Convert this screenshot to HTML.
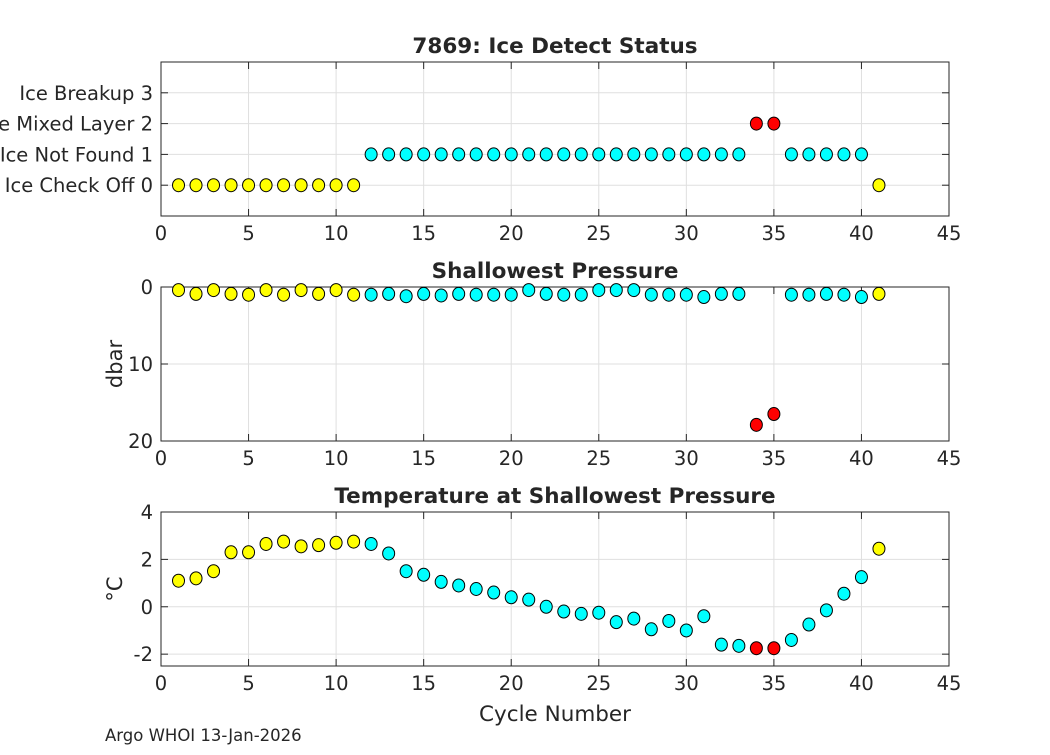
<!DOCTYPE html>
<html><head><meta charset="utf-8"><style>
body{margin:0;background:#fff;}
svg text{font-family:"DejaVu Sans","Liberation Sans",sans-serif;fill:#262626;}
</style></head><body>
<svg id="c" width="1050" height="750" xmlns="http://www.w3.org/2000/svg"></svg>
<script>
const cycles=[1,2,3,4,5,6,7,8,9,10,11,12,13,14,15,16,17,18,19,20,21,22,23,24,25,26,27,28,29,30,31,32,33,34,35,36,37,38,39,40,41];
const iceStatus=[0,0,0,0,0,0,0,0,0,0,0,1,1,1,1,1,1,1,1,1,1,1,1,1,1,1,1,1,1,1,1,1,1,2,2,1,1,1,1,1,0];
const shallowPressure=[0.4,0.9,0.4,0.9,1.0,0.4,1.0,0.4,0.9,0.4,1.0,1.0,0.9,1.2,0.9,1.1,0.9,1.0,1.0,1.0,0.4,0.9,1.0,1.0,0.4,0.4,0.4,1.0,1.0,1.0,1.3,0.9,0.9,17.9,16.5,1.0,1.0,0.9,1.0,1.3,0.9];
const shallowTemp=[1.1,1.2,1.5,2.3,2.3,2.65,2.75,2.55,2.6,2.7,2.75,2.65,2.25,1.5,1.35,1.05,0.9,0.75,0.6,0.4,0.3,0,-0.2,-0.3,-0.25,-0.65,-0.5,-0.95,-0.6,-1.0,-0.4,-1.6,-1.65,-1.75,-1.75,-1.4,-0.75,-0.15,0.55,1.25,2.45];
const xTicks=[0,5,10,15,20,25,30,35,40,45];
const iceTickLabels=["Ice Check Off 0","Ice Not Found 1","Ice Mixed Layer 2","Ice Breakup 3"];
const pTicks=[0,10,20];
const tTicks=[-2,0,2,4];
const colorByStatus=["#ffff00","#00ffff","#ff0000"];

const svg=document.getElementById('c');
const NS="http://www.w3.org/2000/svg";
function el(tag,attrs,parent,text){const e=document.createElementNS(NS,tag);for(const k in attrs)e.setAttribute(k,attrs[k]);if(text!==undefined)e.textContent=text;(parent||svg).appendChild(e);return e;}
const L=161,R=949;
const xs=v=>L+(v-0)/45*(R-L);

function panel(name,top,bottom,y0,y1,yticks,ylabels,title,ylabel,vals){
  const g=el('g',{},svg);
  
  
  const ys=v=>top+(v-y0)/(y1-y0)*(bottom-top);
  el('rect',{x:L,y:top,width:R-L,height:bottom-top,fill:'#fff'},g);
  xTicks.forEach(t=>{el('line',{x1:xs(t),x2:xs(t),y1:top,y2:bottom,stroke:'#dfdfdf','stroke-width':1},g);});
  yticks.forEach(t=>{el('line',{x1:L,x2:R,y1:ys(t),y2:ys(t),stroke:'#dfdfdf','stroke-width':1},g);});
  el('rect',{x:L,y:top,width:R-L,height:bottom-top,fill:'none',stroke:'#262626','stroke-width':1},g);
  xTicks.forEach(t=>{
    el('line',{x1:xs(t),x2:xs(t),y1:bottom,y2:bottom-7,stroke:'#262626'},g);
    el('line',{x1:xs(t),x2:xs(t),y1:top,y2:top+7,stroke:'#262626'},g);
    const tx=el('text',{x:xs(t),y:bottom+24,'text-anchor':'middle','font-size':19.5},g,String(t));
    
    
  });
  yticks.forEach((t,i)=>{
    el('line',{x1:L,x2:L+7,y1:ys(t),y2:ys(t),stroke:'#262626'},g);
    el('line',{x1:R,x2:R-7,y1:ys(t),y2:ys(t),stroke:'#262626'},g);
    const tx=el('text',{x:L-8,y:ys(t)+7,'text-anchor':'end','font-size':19.5},g,ylabels[i]);
    
    
  });
  const ti=el('text',{x:(L+R)/2,y:top-9,'text-anchor':'middle','font-size':21.5,'font-weight':'bold',fill:'#000'},g,title);
  
  
  if(ylabel){
    const yl=el('text',{x:0,y:0,'text-anchor':'middle','font-size':21,transform:`translate(122,${(top+bottom)/2}) rotate(-90)`},g,ylabel);
    
    
  }
  const clip=el('g',{},g);
  cycles.forEach((c,i)=>{
    const p=el('ellipse',{cx:xs(c),cy:ys(vals[i]),rx:6,ry:6.5,fill:colorByStatus[iceStatus[i]],stroke:'#000','stroke-width':1},clip);
    
    
  });
}
panel('ice-status',62,216,4,-1,[0,1,2,3],iceTickLabels,'7869: Ice Detect Status',null,iceStatus);
panel('pressure',287,441,0,20,pTicks,pTicks.map(String),'Shallowest Pressure','dbar',shallowPressure);
panel('temperature',512,666,4,-2.5,tTicks,tTicks.map(String),'Temperature at Shallowest Pressure','°C',shallowTemp);
const xt=el('text',{x:555,y:721,'text-anchor':'middle','font-size':21.5});xt.textContent='Cycle Number';


const ft=el('text',{x:105,y:741,'font-size':16.5,fill:'#000'});ft.textContent='Argo WHOI 13-Jan-2026';


</script>
</body></html>
